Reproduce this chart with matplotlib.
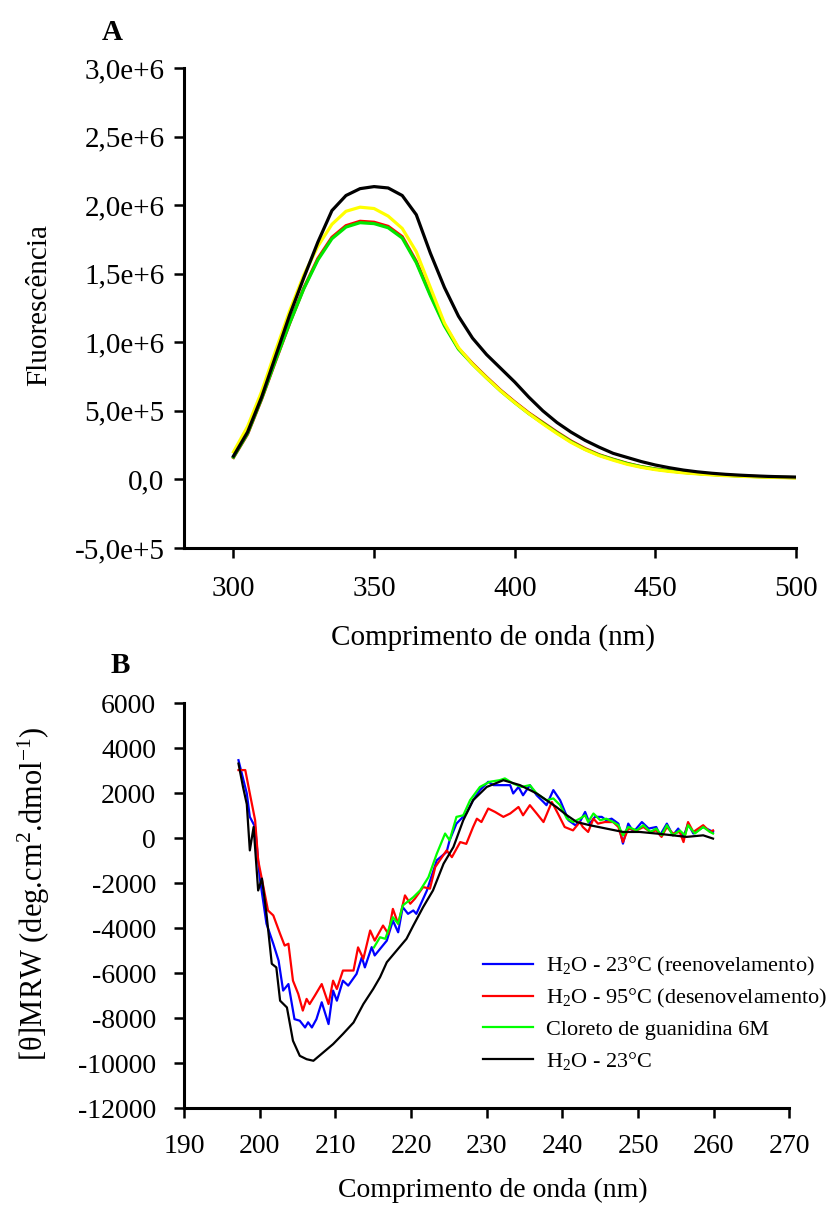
import matplotlib
matplotlib.use("Agg")
import matplotlib.pyplot as plt
import numpy as np

plt.rcParams['font.family'] = ['Liberation Serif', 'DejaVu Serif']
plt.rcParams['mathtext.fontset'] = 'custom'
plt.rcParams['mathtext.rm'] = 'Liberation Serif'
plt.rcParams['mathtext.it'] = 'Liberation Serif:italic'
plt.rcParams['mathtext.bf'] = 'Liberation Serif:bold'

# ---- panel A: fluorescence spectra (x1e6) ----
wl_a = [300, 305, 310, 315, 320, 325, 330, 335, 340, 345, 350, 355, 360, 365, 370,
        375, 380, 385, 390, 395, 400, 405, 410, 415, 420, 425, 430, 435, 440, 445,
        450, 455, 460, 465, 470, 475, 480, 485, 490, 495, 500]
fl_red = [0.16, 0.33, 0.585, 0.865, 1.14, 1.395, 1.61, 1.765, 1.85, 1.882, 1.875, 1.845, 1.77, 1.59, 1.35,
          1.13, 0.955, 0.845, 0.745, 0.65, 0.565, 0.485, 0.415, 0.345, 0.28, 0.225, 0.18, 0.147, 0.117, 0.093,
          0.076, 0.063, 0.052, 0.044, 0.037, 0.031, 0.026, 0.022, 0.018, 0.015, 0.013]
fl_green = [0.163, 0.335, 0.59, 0.87, 1.14, 1.39, 1.60, 1.755, 1.84, 1.872, 1.865, 1.835, 1.76, 1.58, 1.34,
            1.12, 0.95, 0.84, 0.74, 0.645, 0.56, 0.48, 0.41, 0.34, 0.275, 0.22, 0.177, 0.145, 0.115, 0.092,
            0.075, 0.062, 0.051, 0.043, 0.036, 0.030, 0.025, 0.021, 0.018, 0.015, 0.013]
fl_yellow = [0.20, 0.385, 0.64, 0.94, 1.23, 1.49, 1.70, 1.86, 1.955, 1.985, 1.975, 1.92, 1.83, 1.66, 1.40,
             1.14, 0.96, 0.84, 0.74, 0.645, 0.56, 0.48, 0.405, 0.335, 0.27, 0.217, 0.173, 0.14, 0.11, 0.088,
             0.071, 0.058, 0.048, 0.04, 0.033, 0.027, 0.023, 0.019, 0.016, 0.013, 0.011]
fl_black = [0.17, 0.345, 0.60, 0.90, 1.20, 1.47, 1.73, 1.96, 2.07, 2.12, 2.135, 2.125, 2.07, 1.93, 1.65,
            1.40, 1.19, 1.03, 0.91, 0.81, 0.71, 0.60, 0.50, 0.415, 0.345, 0.285, 0.235, 0.19, 0.16, 0.13,
            0.105, 0.085, 0.068, 0.055, 0.045, 0.037, 0.031, 0.026, 0.022, 0.019, 0.017]
yticks_a = [-5e5, 0, 5e5, 1e6, 1.5e6, 2e6, 2.5e6, 3e6]
ylabels_a = ['-5,0e+5', '0,0', '5,0e+5', '1,0e+6', '1,5e+6', '2,0e+6', '2,5e+6', '3,0e+6']
xticks_a = [300, 350, 400, 450, 500]

# ---- panel B: CD spectra ----
x_blu = [197.2, 198.3, 198.7, 199.4, 200.0, 200.9, 201.8, 202.5, 203.1, 203.8, 204.6, 205.3, 206.0, 206.4,
         206.9, 207.5, 208.2, 209.1, 209.7, 210.2, 211.0, 211.7, 212.8, 213.5, 213.9, 214.8, 215.2, 216.8,
         217.6, 218.3, 218.9, 219.6, 220.3, 220.7, 222.1, 223.4, 224.7, 225.1, 226.0, 227.3, 228.2, 229.1,
         230.2, 230.9, 232.2, 233.1, 233.5, 234.2, 234.8, 235.7, 236.6, 237.5, 237.9, 238.8, 239.7, 240.8,
         241.7, 242.3, 243.0, 243.6, 244.3, 245.2, 245.8, 246.5, 247.4, 248.0, 248.7, 249.4, 250.5, 251.4,
         252.4, 252.9, 253.8, 254.6, 255.3, 256.0, 256.6, 257.3, 258.6, 259.5, 259.9]
y_blu = [3460, 1980, 940, 490, -1740, -3810, -4700, -5450, -6780, -6490, -8050, -8120, -8420, -8190,
         -8420, -8050, -7300, -8270, -6780, -7230, -6340, -6560, -6040, -5300, -5750, -4850, -5220, -4560,
         -3670, -4190, -3070, -3370, -3220, -3370, -2330, -990, -620, -100, 640, 1090, 1680, 2130,
         2500, 2350, 2350, 2350, 1980, 2270, 1900, 2350, 1900, 1600, 1460, 2130, 1680, 790,
         570, 710, 1160, 640, 940, 940, 790, 860, 640, -250, 640, 270, 710, 420,
         490, 120, 640, 120, 420, 50, 640, 200, 490, 340, 270]

x_red = [197.2, 198.1, 198.7, 199.4, 199.8, 200.5, 201.1, 201.8, 202.7, 203.3, 203.8, 204.4, 205.1, 205.7,
         206.2, 206.6, 207.3, 208.2, 209.1, 209.7, 210.2, 211.0, 212.4, 213.0, 213.7, 214.6, 215.2, 216.3,
         217.0, 217.6, 218.3, 219.2, 219.9, 220.5, 221.6, 222.5, 223.2, 223.8, 224.7, 225.4, 226.5, 227.3,
         228.2, 228.7, 229.3, 230.2, 231.1, 232.2, 233.1, 234.2, 234.8, 235.7, 236.6, 237.5, 238.6, 239.4,
         240.3, 241.4, 242.3, 242.7, 243.4, 244.1, 244.7, 245.6, 246.7, 247.4, 248.0, 248.7, 249.8, 250.7,
         251.6, 252.4, 253.1, 253.8, 254.6, 255.5, 256.0, 256.6, 257.3, 258.6, 259.5, 259.9]
y_red = [3020, 3020, 1980, 790, -990, -2180, -3220, -3440, -4260, -4780, -4700, -6340, -6930, -7670,
         -7150, -7380, -7000, -6490, -7380, -6340, -6710, -5890, -5890, -4860, -5370, -4110, -4560, -3890,
         -4260, -3150, -3810, -2550, -2920, -2700, -2180, -2250, -1290, -990, -550, -850, -180, -260,
         490, 860, 710, 1310, 1160, 940, 1090, 1380, 1010, 1460, 1090, 710, 1600, 1090,
         490, 340, 710, 490, 270, 860, 640, 710, 710, 490, -180, 420, 340, 490,
         270, 340, 50, 490, 200, 270, -180, 710, 270, 570, 270, 340]

x_grn = [215.1, 215.9, 216.6, 217.6, 218.3, 218.9, 220.3, 221.2, 222.3, 223.4, 224.5, 225.1, 226.0, 226.9,
         227.8, 229.1, 230.4, 231.7, 232.4, 233.5, 234.6, 235.7, 236.6, 237.9, 238.8, 239.7, 240.6, 241.4,
         242.3, 243.0, 243.4, 244.1, 245.0, 245.8, 246.7, 247.4, 248.0, 248.7, 249.8, 250.7, 251.6, 252.4,
         253.1, 253.8, 254.6, 255.5, 256.2, 256.6, 257.5, 258.6, 259.5, 259.9]
y_grn = [-4860, -4410, -4480, -3520, -3810, -3000, -2630, -2330, -1740, -700, 200, -100, 940, 1010,
         1680, 2270, 2500, 2570, 2650, 2420, 2270, 2350, 1980, 1680, 1760, 1460, 860, 710,
         860, 1010, 710, 1090, 790, 860, 710, 570, 120, 490, 340, 570, 270, 420,
         120, 570, 120, 340, 120, 570, 200, 490, 270, 200]

x_blk = [197.2, 197.8, 198.3, 198.7, 199.2, 199.8, 200.3, 200.9, 201.6, 202.2, 202.7, 203.6, 204.4, 205.3,
         206.2, 207.1, 208.4, 209.7, 211.0, 212.4, 213.7, 215.0, 215.9, 216.8, 218.1, 219.4, 220.3, 221.6,
         222.9, 224.3, 225.6, 226.9, 228.2, 230.0, 232.2, 234.4, 236.6, 237.9, 239.2, 240.6, 241.9, 243.6,
         245.8, 248.0, 250.2, 252.4, 254.6, 256.4, 258.6, 259.9]
y_blk = [3310, 2270, 1500, -550, 490, -2330, -1800, -3370, -5590, -5750, -7230, -7530, -9010, -9680,
         -9830, -9900, -9530, -9160, -8710, -8200, -7380, -6710, -6190, -5520, -5000, -4480, -3890, -3070,
         -2330, -1140, -400, 790, 1680, 2270, 2570, 2350, 1980, 1680, 1380, 1010, 710, 570,
         420, 270, 270, 200, 120, 50, 120, -25]

labels_b = ['H$_2$O - 23°C (reenovelamento)', 'H$_2$O - 95°C (desenovelamento)',
            'Cloreto de guanidina 6M', 'H$_2$O - 23°C']
yticks_b = [-12000, -10000, -8000, -6000, -4000, -2000, 0, 2000, 4000, 6000]
ylabels_b = ['-12000', '-10000', '-8000', '-6000', '-4000', '-2000', '0', '2000', '4000', '6000']
xticks_b = [190, 200, 210, 220, 230, 240, 250, 260, 270]

fig = plt.figure(figsize=(8.34, 12.18), dpi=100)


def style(ax, size, xpad, ypad):
    for s in ['top', 'right']:
        ax.spines[s].set_visible(False)
    for s in ['left', 'bottom']:
        ax.spines[s].set_linewidth(2.2)
    ax.tick_params(direction='out', length=7, width=1.8, labelsize=size)
    ax.tick_params(axis='x', pad=xpad)
    ax.tick_params(axis='y', pad=ypad)


# panel A
axA = fig.add_axes([0.2206, 0.5501, 0.7338, 0.3941])
wa = np.array(wl_a)
axA.plot(wa, np.array(fl_red) * 1e6, color='#ff0000', lw=2.3)
axA.plot(wa, np.array(fl_green) * 1e6, color='#00e600', lw=2.3)
axA.plot(wa, np.array(fl_yellow) * 1e6, color='#ffff00', lw=2.3)
axA.plot(wa, np.array(fl_black) * 1e6, color='black', lw=2.3)
axA.set_xlim(282.4, 500)
axA.set_ylim(-5e5, 3e6)
axA.set_xticks(xticks_a)
axA.set_yticks(yticks_a)
axA.set_yticklabels(ylabels_a)
style(axA, 21, 13, 7)
axA.set_xlabel('Comprimento de onda (nm)', fontsize=21)
axA.set_ylabel('Fluorescência', fontsize=21)
axA.xaxis.set_label_coords(0.505, -0.1875)
axA.xaxis.label.set_va('center')
axA.yaxis.set_label_coords(-0.237, 0.506)
axA.yaxis.label.set_va('center')
fig.text(112 / 834, 1 - 32 / 1218, 'A', fontsize=21, fontweight='bold', ha='center', va='center')

# panel B
axB = fig.add_axes([0.2206, 0.0903, 0.726, 0.3325])
axB.plot(x_blu, y_blu, color='#0000ff', lw=1.6, label=labels_b[0])
axB.plot(x_red, y_red, color='#ff0000', lw=1.6, label=labels_b[1])
axB.plot(x_grn, y_grn, color='#00ff00', lw=1.6, label=labels_b[2])
axB.plot(x_blk, y_blk, color='black', lw=1.6, label=labels_b[3])
axB.set_xlim(190, 270)
axB.set_ylim(-12000, 6000)
axB.set_xticks(xticks_b)
axB.set_yticks(yticks_b)
axB.set_yticklabels(ylabels_b)
style(axB, 20, 12, 13)
axB.set_xlabel('Comprimento de onda (nm)', fontsize=20)
axB.set_ylabel('[θ]MRW (deg.cm$^2$.dmol$^{-1}$)', fontsize=22)
axB.xaxis.set_label_coords(0.51, -0.2025)
axB.xaxis.label.set_va('center')
axB.yaxis.set_label_coords(-0.248, 0.53)
axB.yaxis.label.set_va('center')
axB.legend(loc='upper left', bbox_to_anchor=(0.494, 0.378), frameon=False, fontsize=16,
           handlelength=2.25, handletextpad=0.6, labelspacing=0.42, borderpad=0, borderaxespad=0)
fig.text(120 / 834, 1 - 665 / 1218, 'B', fontsize=21, fontweight='bold', ha='center', va='center')

fig.savefig('out.png', dpi=100)
